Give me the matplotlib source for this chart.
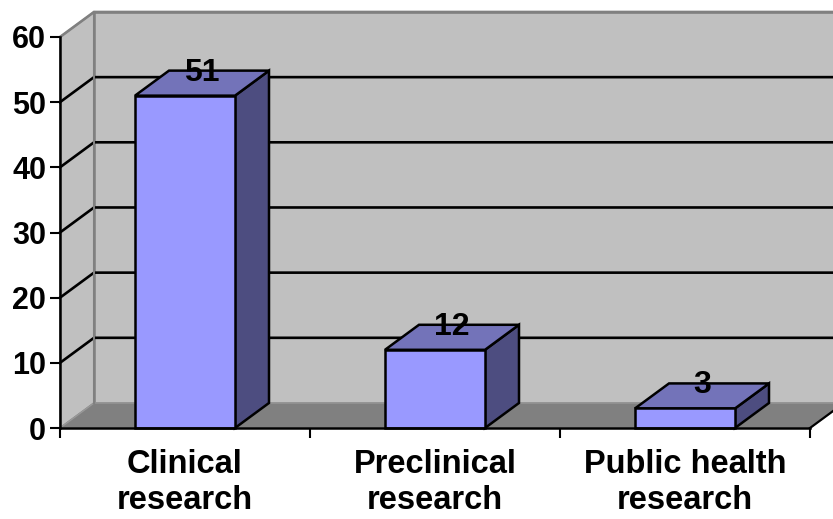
import matplotlib
matplotlib.use("Agg")
import matplotlib.pyplot as plt
from matplotlib.patches import Polygon, Rectangle

categories = ["Clinical\nresearch", "Preclinical\nresearch", "Public health\nresearch"]
counts = [51, 12, 3]
y_ticks = [0, 10, 20, 30, 40, 50, 60]

plt.rcParams["font.family"] = ["Liberation Sans", "DejaVu Sans"]
plt.rcParams["font.weight"] = "bold"

W, H = 833, 519
fig = plt.figure(figsize=(W / 100, H / 100), dpi=100)
# front plane of the 3-D box
ax = fig.add_axes([60 / W, (H - 428) / H, 750 / W, 391 / H])
ax.set_xlim(0, len(categories))
ax.set_ylim(0, 60)
ax.patch.set_visible(False)

# depth of the box in data units
DX = 0.136
DY = 3.84
ymax = y_ticks[-1]
n = len(categories)

wall = "#c0c0c0"
floor = "#808080"
edge = "#808080"

# back wall and side wall
ax.add_patch(Rectangle((DX, DY), n + 0.2, ymax, facecolor=wall, edgecolor=edge,
                       lw=1.8, clip_on=False, zorder=0.2))
ax.add_patch(Polygon([(0, 0), (DX, DY), (DX, ymax + DY), (0, ymax)], closed=True,
                     facecolor=wall, edgecolor=edge, lw=1.2, clip_on=False, zorder=0.3))
# floor
ax.add_patch(Polygon([(0, 0), (n, 0), (n + DX, DY), (DX, DY)], closed=True,
                     facecolor=floor, edgecolor="#999999", lw=1.0, clip_on=False, zorder=0.4))
ax.plot([n, n + DX], [0, DY], color="black", lw=1.6, clip_on=False, zorder=0.5)

# gridlines: diagonal on the side wall, horizontal on the back wall
for v in y_ticks[1:]:
    c = edge if v == ymax else "black"
    ax.plot([0, DX, n + 0.5], [v, v + DY, v + DY], color=c, lw=1.9,
            clip_on=False, zorder=0.6, solid_joinstyle="miter")
ax.plot([DX, DX], [DY, ymax + DY], color=edge, lw=1.5, clip_on=False, zorder=0.6)

# 3-D columns
bw = 0.4
front_c = "#9999ff"
top_c = "#7373b9"
side_c = "#4d4d80"
for i, v in enumerate(counts):
    x0 = i + 0.5 - bw / 2
    x1 = x0 + bw
    ax.add_patch(Polygon([(x1, 0), (x1 + DX, DY), (x1 + DX, v + DY), (x1, v)], closed=True,
                         facecolor=side_c, edgecolor="black", lw=1.8, zorder=2,
                         joinstyle="miter", clip_on=False))
    ax.add_patch(Polygon([(x0, v), (x1, v), (x1 + DX, v + DY), (x0 + DX, v + DY)], closed=True,
                         facecolor=top_c, edgecolor="black", lw=1.8, zorder=2,
                         joinstyle="miter", clip_on=False))
    ax.add_patch(Rectangle((x0, 0), bw, v, facecolor=front_c, edgecolor="black",
                           lw=1.8, zorder=2.1, joinstyle="miter", clip_on=False))
    ax.text(i + 0.5 + DX / 2, v + DY / 2 + 0.4, str(v), ha="center", va="baseline",
            fontsize=23, fontweight="bold", zorder=3)

# axes lines and ticks
for s in ("top", "right"):
    ax.spines[s].set_visible(False)
for s in ("left", "bottom"):
    ax.spines[s].set_linewidth(1.8)
    ax.spines[s].set_zorder(2.5)

ax.set_yticks(y_ticks)
ax.set_yticklabels([str(t) for t in y_ticks])
ax.tick_params(axis="y", direction="out", length=7, width=1.5, pad=3, labelsize=22)

ax.set_xticks(range(n + 1))
ax.set_xticklabels([""] * (n + 1))
ax.set_xticks([i + 0.5 for i in range(n)], minor=True)
ax.set_xticklabels(categories, minor=True, fontsize=23.5, fontweight="bold")
ax.tick_params(axis="x", which="major", direction="out", length=7, width=1.5)
ax.tick_params(axis="x", which="minor", length=0, pad=15)
for lbl in ax.get_yticklabels() + ax.get_xticklabels(minor=True):
    lbl.set_fontweight("bold")
for lbl in ax.get_xticklabels(minor=True):
    lbl.set_linespacing(1.2)

fig.savefig("out.png", dpi=100)
